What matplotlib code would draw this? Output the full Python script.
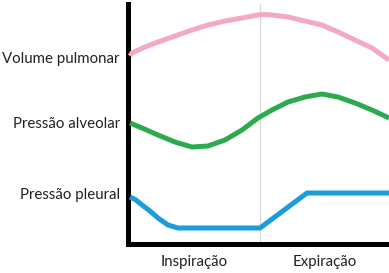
import matplotlib
matplotlib.use("Agg")
import matplotlib.pyplot as plt

# time (arbitrary units, 0..261) and curve values (arbitrary units, 0..240)
vol_t = [2, 4, 17, 30, 47, 64, 80, 97, 114, 130, 137, 144, 160, 177, 194, 210, 227, 244, 261]
vol_v = [188, 191, 197, 202, 208, 214, 219, 223, 226, 229, 229.5, 229, 227, 223, 219, 212, 204, 196, 184]

alv_t = [2, 14, 30, 47, 64, 80, 97, 114, 130, 144, 160, 177, 194, 210, 227, 244, 261]
alv_v = [121, 116, 109, 102, 97, 98, 104, 114, 126, 134, 142, 147, 150, 147, 141, 134, 126]

ple_t = [2, 8, 14, 22, 30, 40, 50, 57, 132, 179, 261]
ple_v = [47, 44, 39, 33, 26, 19, 16, 16, 16, 51, 51]

divider_t = 132
ytick_vals = [187, 122, 50]
ytick_labels = ["Volume pulmonar", "Pressão alveolar", "Pressão pleural"]
xtick_vals = [66, 197]
xtick_labels = ["Inspiração", "Expiração"]

plt.rcParams['font.family'] = ['Lato', 'DejaVu Sans']

fig = plt.figure(figsize=(3.89, 2.73), dpi=100)
ax = fig.add_axes([128/389, 29/273, 261/389, 240/273])
ax.set_xlim(0, 261)
ax.set_ylim(0, 240)

ax.axvline(divider_t, color="#d9d9d9", lw=0.9, zorder=1)
ax.plot(vol_t, vol_v, color="#F4A9C2", lw=3.6, solid_capstyle="butt", solid_joinstyle="round", zorder=3)
ax.plot(alv_t, alv_v, color="#2BAA4E", lw=3.6, solid_capstyle="butt", solid_joinstyle="round", zorder=3)
ax.plot(ple_t, ple_v, color="#1B9CDB", lw=3.6, solid_capstyle="butt", solid_joinstyle="round", zorder=3)

for s in ["top", "right"]:
    ax.spines[s].set_visible(False)
for s in ["left", "bottom"]:
    ax.spines[s].set_linewidth(3.6)
    ax.spines[s].set_color("black")

ax.set_yticks(ytick_vals)
ax.set_yticklabels(ytick_labels, fontsize=10.8, color="#222222")
ax.set_xticks(xtick_vals)
ax.set_xticklabels(xtick_labels, fontsize=10.8, color="#222222")
ax.tick_params(length=0)
ax.tick_params(axis="y", pad=6)
ax.tick_params(axis="x", pad=8)

fig.savefig("out.png", dpi=100)
